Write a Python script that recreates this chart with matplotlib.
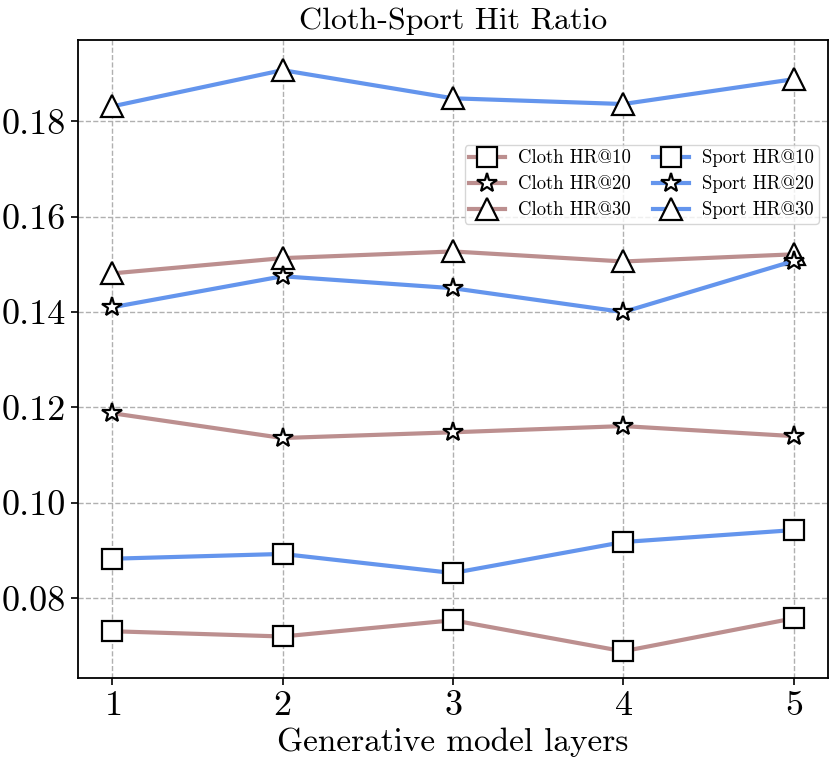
import matplotlib
matplotlib.use("Agg")
import matplotlib.pyplot as plt
import numpy as np

layers = [1, 2, 3, 4, 5]

cloth_hr10 = [0.0731, 0.0720, 0.0754, 0.0689, 0.0758]
cloth_hr20 = [0.1188, 0.1136, 0.1148, 0.1161, 0.1140]
cloth_hr30 = [0.1481, 0.1513, 0.1527, 0.1506, 0.1521]

sport_hr10 = [0.0883, 0.0893, 0.0853, 0.0918, 0.0943]
sport_hr20 = [0.1410, 0.1475, 0.1450, 0.1400, 0.1507]
sport_hr30 = [0.1831, 0.1907, 0.1848, 0.1836, 0.1888]

plt.rcParams['font.family'] = ['cmr10', 'DejaVu Serif']
plt.rcParams['mathtext.fontset'] = 'cm'
plt.rcParams['axes.formatter.use_mathtext'] = True

fig, ax = plt.subplots(figsize=(8.31, 7.71), dpi=100)

cloth_c = '#BC8F8F'
sport_c = '#6495ED'

def draw(ys, color, marker, ms, label):
    ax.plot(layers, ys, color=color, lw=3, marker=marker, markersize=ms,
            markerfacecolor='white', markeredgecolor='black',
            markeredgewidth=1.6, label=label, zorder=3)

draw(cloth_hr10, cloth_c, 's', 15, 'Cloth HR@10')
draw(cloth_hr20, cloth_c, '*', 15, 'Cloth HR@20')
draw(cloth_hr30, cloth_c, '^', 16, 'Cloth HR@30')
draw(sport_hr10, sport_c, 's', 15, 'Sport HR@10')
draw(sport_hr20, sport_c, '*', 15, 'Sport HR@20')
draw(sport_hr30, sport_c, '^', 16, 'Sport HR@30')

ax.set_xlim(0.8, 5.2)
ax.set_ylim(0.0632, 0.197)
ax.set_xticks(layers)
ax.set_yticks([0.08, 0.10, 0.12, 0.14, 0.16, 0.18])
ax.set_yticklabels(['0.08', '0.10', '0.12', '0.14', '0.16', '0.18'])
ax.tick_params(labelsize=26, width=1.2, length=5)
ax.grid(True, linestyle='--', color='#b0b0b0', lw=1)
ax.set_axisbelow(True)
for s in ax.spines.values():
    s.set_linewidth(1.3)

ax.set_title('Cloth-Sport Hit Ratio', fontsize=23, pad=8)
ax.set_xlabel('Generative model layers', fontsize=24)

ax.legend(ncol=2, fontsize=13.5, loc='upper right', bbox_to_anchor=(0.988, 0.836),
          borderaxespad=0, handlelength=1.9, handletextpad=0.7,
          columnspacing=1.2, labelspacing=0.42, borderpad=0.25)

fig.subplots_adjust(left=0.094, right=0.996, top=0.948, bottom=0.12)
fig.savefig('out.png')
